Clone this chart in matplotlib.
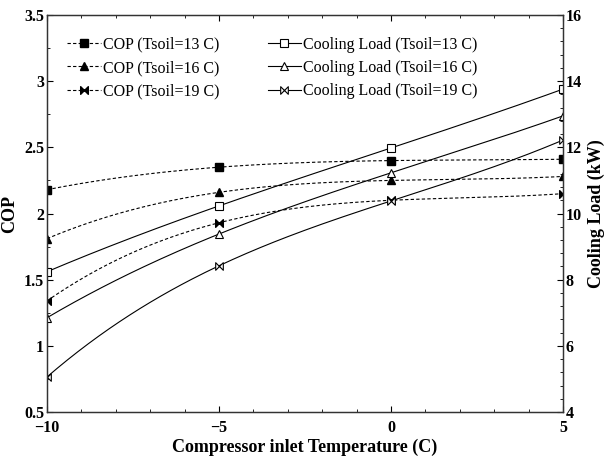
import numpy as np
import matplotlib.pyplot as plt
from matplotlib.path import Path
from matplotlib.ticker import MultipleLocator, FormatStrFormatter

plt.rcParams["font.family"] = ["Liberation Serif", "DejaVu Serif"]

temps = [-10, -5, 0, 5]
cop_13 = [2.18, 2.35, 2.40, 2.41]
cop_16 = [1.81, 2.16, 2.25, 2.28]
cop_19 = [1.34, 1.93, 2.10, 2.15]
load_13 = [8.24, 10.23, 11.98, 13.76]
load_16 = [6.85, 9.38, 11.23, 12.95]
load_19 = [5.06, 8.42, 10.38, 12.22]

# horizontal bowtie marker
bowtie = Path([(-1, 1), (-1, -1), (1, 1), (1, -1), (-1, 1)],
              [Path.MOVETO, Path.LINETO, Path.LINETO, Path.LINETO, Path.CLOSEPOLY])

xs = np.linspace(-10, 5, 151)
marks = [0, 50, 100, 150]


def smooth(vals):
    return np.polyval(np.polyfit(temps, vals, 3), xs)


fig = plt.figure(figsize=(6.06, 4.59), dpi=100)
ax = fig.add_axes([0.0776, 0.1024, 0.8514, 0.8649])
ax2 = ax.twinx()

dash = (0, (3, 2))
cop_series = [(cop_13, "s", "COP (Tsoil=13 C)"),
              (cop_16, "^", "COP (Tsoil=16 C)"),
              (cop_19, bowtie, "COP (Tsoil=19 C)")]
load_series = [(load_13, "s", "Cooling Load (Tsoil=13 C)"),
               (load_16, "^", "Cooling Load (Tsoil=16 C)"),
               (load_19, bowtie, "Cooling Load (Tsoil=19 C)")]

handles = []
for vals, m, lab in cop_series:
    h, = ax.plot(xs, smooth(vals), color="black", lw=0.8, linestyle=dash,
                 marker=m, markevery=marks, ms=5.5, mfc="black", mec="black",
                 label=lab)
    handles.append(h)
for vals, m, lab in load_series:
    h, = ax2.plot(xs, smooth(vals), color="black", lw=0.8, linestyle="-",
                  marker=m, markevery=marks, ms=5.5, mfc="white", mec="black",
                  mew=0.8, label=lab)
    handles.append(h)

ax.set_xlim(-10, 5)
ax.set_ylim(0.5, 3.5)
ax2.set_ylim(4, 16)

ax.xaxis.set_major_locator(MultipleLocator(5))
ax.xaxis.set_minor_locator(MultipleLocator(1))
ax.yaxis.set_major_locator(MultipleLocator(0.5))
ax.yaxis.set_minor_locator(MultipleLocator(0.25))
ax.yaxis.set_major_formatter(FormatStrFormatter("%g"))
ax2.yaxis.set_major_locator(MultipleLocator(2))
ax2.yaxis.set_minor_locator(MultipleLocator(0.4))

ax.tick_params(axis="x", which="both", direction="in", top=True, labelsize=11.5, pad=6)
ax.tick_params(axis="y", which="both", direction="in", labelsize=11.5, pad=2)
ax.tick_params(which="major", length=4)
ax.tick_params(which="minor", length=2)
ax2.tick_params(axis="y", which="both", direction="in", labelsize=11.5, pad=2)
ax2.tick_params(which="major", length=4)
ax2.tick_params(which="minor", length=2)
for lbl in ax.get_xticklabels() + ax.get_yticklabels() + ax2.get_yticklabels():
    lbl.set_fontweight("bold")

for a in (ax, ax2):
    for s in a.spines.values():
        s.set_linewidth(0.9)
        s.set_color("#333333")

ax.set_xlabel("Compressor inlet Temperature (C)", fontsize=13, fontweight="bold", labelpad=2)
ax.set_ylabel("COP", fontsize=13, fontweight="bold", labelpad=4)
ax2.set_ylabel("Cooling Load (kW)", fontsize=13, fontweight="bold", labelpad=4)

ax2.legend(handles=handles, ncol=2, loc="upper left", bbox_to_anchor=(0.039, 0.945),
           frameon=False, fontsize=11.5, handlelength=2.1, handletextpad=0.15,
           columnspacing=3.0, labelspacing=0.45, borderpad=0, borderaxespad=0)

fig.savefig("out.png", dpi=100)
